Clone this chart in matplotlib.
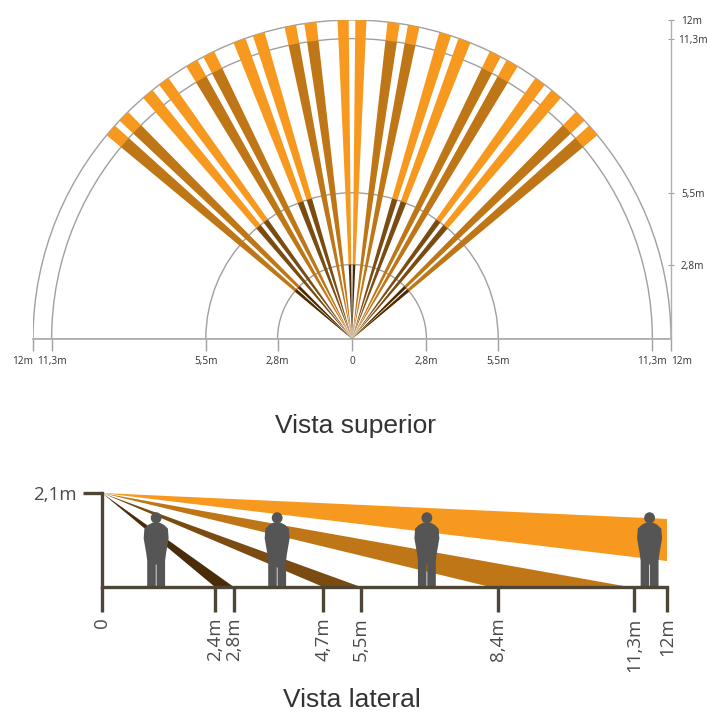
import numpy as np
import matplotlib
matplotlib.use('Agg')
import matplotlib.pyplot as plt
from matplotlib.patches import Wedge, Polygon, Ellipse
from matplotlib.transforms import ScaledTranslation

# beams of the left half, degrees from vertical (inner edge, outer edge)
beam_inner = [48.0, 44.6, 38.7, 35.1, 29.0, 25.6, 19.5, 15.9, 10.1, 6.4, 0.6]
beam_outer = [50.3, 46.8, 40.9, 37.2, 31.3, 27.8, 21.8, 18.1, 12.2, 8.6, 2.6]
# radius where orange starts and where the inner dark part stops
beam_orange_from = [11.3, 11.3, 5.5, 5.5, 11.3, 11.3, 5.5, 5.5, 11.3, 11.3, 2.8]
beam_dark_to = [2.8, 2.8, 5.5, 5.5, 0, 0, 5.5, 5.5, 0, 0, 2.8]

top_radii = [2.8, 5.5, 11.3, 12]
top_labels = ['2,8m', '5,5m', '11,3m', '12m']

side_ticks = [0, 2.4, 2.8, 4.7, 5.5, 8.4, 11.3, 12]
side_labels = ['0', '2,4m', '2,8m', '4,7m', '5,5m', '8,4m', '11,3m', '12m']
sensor_height = 2.1
far_zone = [(2.4, 2.8), (4.7, 5.5), (8.25, 11.2)]
orange_end = [0.58, 1.52]  # height at 12 m
people_x = [1.15, 3.72, 6.9, 11.63]
person_h = 1.67

ORANGE = '#f7991f'
MID = '#bf7616'
BROWN = '#7a4c12'
DARK = '#4a2c0a'
GREY = '#a0a0a0'
LINE = '#b0b0b0'
AXIS = '#4f4536'
far_colors = [DARK, BROWN, MID]

plt.rcParams['font.family'] = ['Open Sans', 'DejaVu Sans']

fig = plt.figure(figsize=(7.07, 7.13), dpi=100)
W, H = 707, 713

# top view
ax = fig.add_axes([33 / W, 1 - 339 / H, 638 / W, 319 / H])
ax.set_xlim(-12, 12)
ax.set_ylim(0, 12)
for r in top_radii:
    ax.add_patch(Wedge((0, 0), r, 0, 180, fill=False, ec=GREY, lw=1, zorder=1))

for sign in [-1, 1]:
    for a, b, start, dark_to in zip(beam_inner, beam_outer, beam_orange_from, beam_dark_to):
        if sign < 0:
            t1, t2 = 90 + a, 90 + b
        else:
            t1, t2 = 90 - b, 90 - a
        ax.add_patch(Wedge((0, 0), 12, t1, t2, width=12 - start, fc=ORANGE, ec='none', zorder=2))
        if start > 5.5:
            ax.add_patch(Wedge((0, 0), start, t1, t2, fc=MID, ec='none', zorder=2))
        if dark_to == 2.8:
            ax.add_patch(Wedge((0, 0), 2.8, t1, t2, fc=DARK, ec='none', zorder=3))
        elif dark_to == 5.5:
            ax.add_patch(Wedge((0, 0), 5.5, t1, t2, fc=BROWN, ec='none', zorder=3))

for s in ['top', 'left']:
    ax.spines[s].set_visible(False)
ax.spines['bottom'].set_color(LINE)
ax.spines['right'].set_color(LINE)
ax.spines['bottom'].set_linewidth(1.3)
ax.spines['right'].set_linewidth(1.0)
ax.patch.set_alpha(0)

xt = [-r for r in top_radii[::-1]] + [0] + top_radii
ax.set_xticks(xt)
ax.set_xticklabels(top_labels[::-1] + ['0'] + top_labels, fontsize=7.3, color='#333333')
ax.yaxis.tick_right()
ax.set_yticks(top_radii)
ax.set_yticklabels(top_labels, fontsize=7.3, color='#333333')
ax.tick_params(axis='x', length=8.6, width=1, color=GREY, pad=3.4)
ax.tick_params(axis='y', direction='inout', length=5, width=0.8, color=GREY, pad=4.7)

# the outer 12m labels sit beside their ticks, not under them
ax.get_xticklabels()[0].set_horizontalalignment('right')
ax.get_xticklabels()[-1].set_horizontalalignment('left')
lab = ax.get_yticklabels()[2]
lab.set_transform(lab.get_transform() + ScaledTranslation(-3 / 100, 0, fig.dpi_scale_trans))

fig.text(356 / W, 1 - 426 / H, 'Vista superior', family=['Liberation Sans'], fontsize=19,
         color='#333333', ha='center', va='center')

# side view
bx = fig.add_axes([102 / W, 1 - 587 / H, 565 / W, 94 / H])
bx.set_xlim(0, 12)
bx.set_ylim(0, sensor_height)
for (x0, x1), c in zip(far_zone, far_colors):
    bx.fill([0, x0, x1], [sensor_height, 0, 0], color=c, lw=0, zorder=2)
bx.fill([0, 12, 12], [sensor_height, orange_end[0], orange_end[1]], color=ORANGE, lw=0, zorder=2)

# standing silhouette: half widths in metres along the x axis, heights as share of the person
half_w = np.array([.19, .19, .21, .265, .25, .17, .08])
levels = np.array([0, .35, .45, .65, .78, .83, .86])
gap_w = 0.008
for px in people_x:
    right = np.c_[px + half_w, levels * person_h]
    left = np.c_[px - half_w[::-1], levels[::-1] * person_h]
    gap = [[px - gap_w, 0], [px - gap_w, .3 * person_h], [px + gap_w, .3 * person_h], [px + gap_w, 0]]
    bx.add_patch(Polygon(np.vstack([gap[2:], right, left, gap[:2]]), fc='#555555', ec='none', zorder=4))
    bx.add_patch(Ellipse((px, person_h * 0.925), 0.23, 0.25, fc='#555555', ec='none', zorder=4))

for s in ['top', 'right']:
    bx.spines[s].set_visible(False)
for s in ['bottom', 'left']:
    bx.spines[s].set_color(AXIS)
    bx.spines[s].set_linewidth(2.4)
    bx.spines[s].set_zorder(5)
bx.patch.set_alpha(0)
bx.set_xticks(side_ticks)
bx.set_xticklabels(side_labels, rotation=90, fontsize=13.5, color='#4a4a4a')
bx.set_yticks([sensor_height])
bx.set_yticklabels(['2,1m'], fontsize=13.5, color='#4a4a4a')
bx.tick_params(axis='x', length=18, width=2.4, color=AXIS, pad=4)
bx.tick_params(axis='y', length=14, width=2.4, color=AXIS, pad=4)

fig.text(352 / W, 1 - 700 / H, 'Vista lateral', family=['Liberation Sans'], fontsize=19,
         color='#333333', ha='center', va='center')

fig.savefig('out.png', dpi=100)
